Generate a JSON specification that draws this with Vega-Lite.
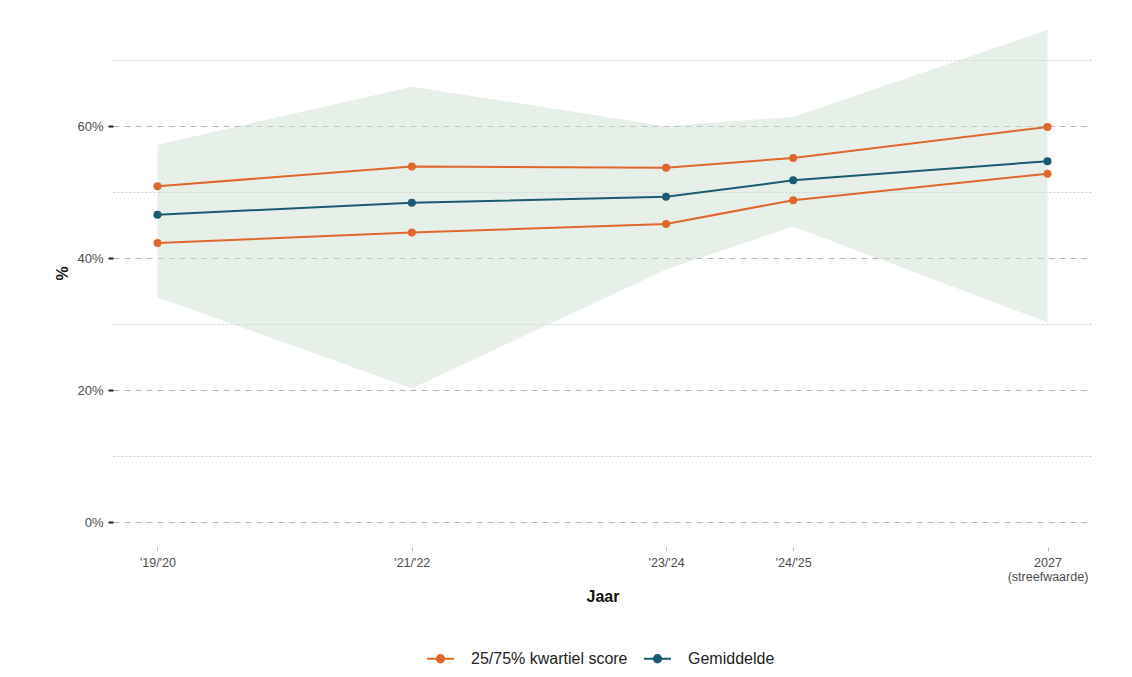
{
  "$schema": "https://vega.github.io/schema/vega-lite/v6.json",
  "width": 979,
  "height": 530,
  "autosize": {"type": "none"},
  "padding": {"left": 113, "top": 17, "right": 40, "bottom": 130},
  "config": {"font": "Liberation Sans", "view": {"stroke": null}},
  "datasets": {
    "band": [
      {"jaar": 2020, "min": 34.1, "max": 57.2},
      {"jaar": 2022, "min": 20.3, "max": 66.0},
      {"jaar": 2024, "min": 38.3, "max": 60.0},
      {"jaar": 2025, "min": 44.8, "max": 61.4},
      {"jaar": 2027, "min": 30.3, "max": 74.6}
    ],
    "lijnen": [
      {"jaar": 2020, "lijn": "q75", "reeks": "25/75% kwartiel score", "waarde": 50.9},
      {"jaar": 2022, "lijn": "q75", "reeks": "25/75% kwartiel score", "waarde": 53.9},
      {"jaar": 2024, "lijn": "q75", "reeks": "25/75% kwartiel score", "waarde": 53.7},
      {"jaar": 2025, "lijn": "q75", "reeks": "25/75% kwartiel score", "waarde": 55.2},
      {"jaar": 2027, "lijn": "q75", "reeks": "25/75% kwartiel score", "waarde": 59.9},
      {"jaar": 2020, "lijn": "q25", "reeks": "25/75% kwartiel score", "waarde": 42.3},
      {"jaar": 2022, "lijn": "q25", "reeks": "25/75% kwartiel score", "waarde": 43.9},
      {"jaar": 2024, "lijn": "q25", "reeks": "25/75% kwartiel score", "waarde": 45.2},
      {"jaar": 2025, "lijn": "q25", "reeks": "25/75% kwartiel score", "waarde": 48.8},
      {"jaar": 2027, "lijn": "q25", "reeks": "25/75% kwartiel score", "waarde": 52.8},
      {"jaar": 2020, "lijn": "gem", "reeks": "Gemiddelde", "waarde": 46.6},
      {"jaar": 2022, "lijn": "gem", "reeks": "Gemiddelde", "waarde": 48.4},
      {"jaar": 2024, "lijn": "gem", "reeks": "Gemiddelde", "waarde": 49.3},
      {"jaar": 2025, "lijn": "gem", "reeks": "Gemiddelde", "waarde": 51.8},
      {"jaar": 2027, "lijn": "gem", "reeks": "Gemiddelde", "waarde": 54.7}
    ]
  },
  "layer": [
    {
      "data": {"name": "band"},
      "mark": {"type": "area", "color": "#cfdfd3", "opacity": 0.5},
      "encoding": {
        "x": {
          "field": "jaar", "type": "quantitative",
          "scale": {"domain": [2019.65, 2027.35], "nice": false, "zero": false},
          "axis": {
            "title": "Jaar",
            "titleFontSize": 16, "titleFontWeight": "bold", "titleColor": "#111",
            "titleY": 49, "titleBaseline": "middle",
            "values": [2020, 2022, 2024, 2025, 2027],
            "labelExpr": "datum.value == 2020 ? \"'19/'20\" : datum.value == 2022 ? \"'21/'22\" : datum.value == 2024 ? \"'23/'24\" : datum.value == 2025 ? \"'24/'25\" : ['2027', '(streefwaarde)']",
            "labelFontSize": 12.5, "labelColor": "#4d4d4d", "labelPadding": 5, "labelLineHeight": 14,
            "domain": false, "grid": false,
            "ticks": true, "tickSize": 4, "tickColor": "#bbbbbb", "tickWidth": 1
          }
        },
        "y": {
          "field": "max", "type": "quantitative",
          "scale": {"domain": [-3.75, 76.55], "nice": false, "zero": false},
          "axis": {
            "title": "%",
            "titleFontSize": 16, "titleFontWeight": "bold", "titleColor": "#111",
            "titleX": -51, "titleY": 256, "titleBaseline": "middle", "titleAngle": -90,
            "values": [0, 10, 20, 30, 40, 50, 60, 70],
            "labelExpr": "datum.value % 20 == 0 ? datum.value + '%' : ''",
            "labelFontSize": 13, "labelColor": "#4d4d4d", "labelPadding": 5,
            "domain": false,
            "ticks": true, "tickSize": 5, "tickColor": "#222222", "tickWidth": 2,
            "tickOpacity": {"condition": {"test": "datum.value % 20 == 0", "value": 1}, "value": 0},
            "grid": true,
            "gridDash": {"condition": {"test": "datum.value % 20 == 0", "value": [6, 5]}, "value": [2, 2]},
            "gridColor": {"condition": {"test": "datum.value % 20 == 0", "value": "#b3b3b3"}, "value": "#cccccc"},
            "gridWidth": 1
          }
        },
        "y2": {"field": "min"}
      }
    },
    {
      "data": {"name": "lijnen"},
      "mark": {"type": "line", "strokeWidth": 2},
      "encoding": {
        "x": {"field": "jaar", "type": "quantitative"},
        "y": {"field": "waarde", "type": "quantitative"},
        "detail": {"field": "lijn"},
        "color": {
          "field": "reeks", "type": "nominal",
          "scale": {"domain": ["25/75% kwartiel score", "Gemiddelde"], "range": ["#e0672b", "#1b5a73"]},
          "legend": {
            "title": null,
            "orient": "none", "direction": "horizontal",
            "legendX": 313, "legendY": 627,
            "symbolType": "M-1,0H1M0.27,0A0.27,0.27,0,1,1,-0.27,0A0.27,0.27,0,1,1,0.27,0Z",
            "symbolSize": 729, "symbolStrokeWidth": 2,
            "labelFontSize": 16, "labelColor": "#222222", "labelOffset": 16,
            "columnPadding": 12,
            "encode": {
              "symbols": {
                "update": {
                  "fill": {"scale": "color", "field": "value"},
                  "stroke": {"scale": "color", "field": "value"},
                  "strokeWidth": {"value": 2},
                  "opacity": {"value": 1}
                }
              }
            }
          }
        }
      }
    },
    {
      "data": {"name": "lijnen"},
      "mark": {"type": "point", "filled": true, "size": 64, "opacity": 1},
      "encoding": {
        "x": {"field": "jaar", "type": "quantitative"},
        "y": {"field": "waarde", "type": "quantitative"},
        "color": {"field": "reeks", "type": "nominal"}
      }
    }
  ]
}
